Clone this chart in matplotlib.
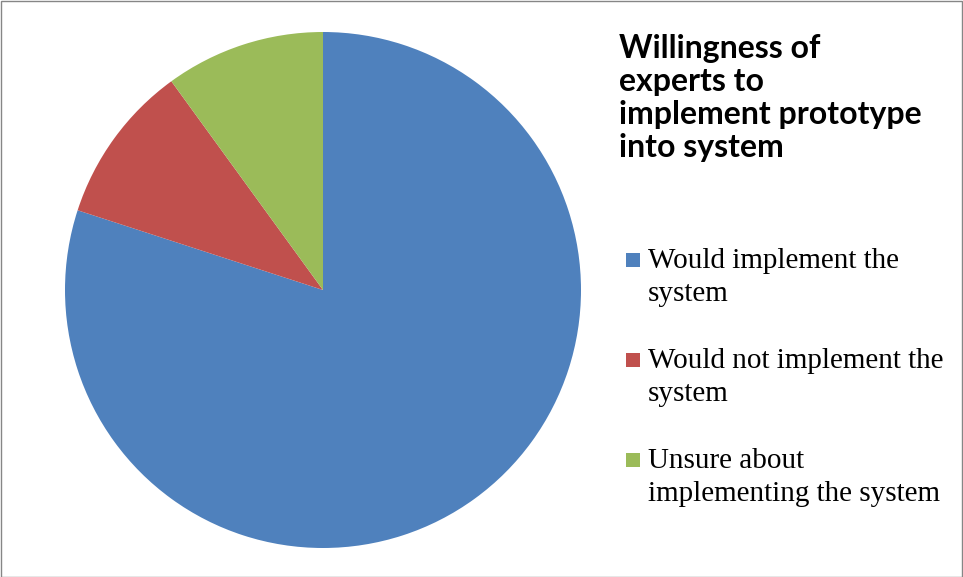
import matplotlib
matplotlib.use("Agg")
import matplotlib.pyplot as plt
from matplotlib.patches import Rectangle

categories = ["Would implement the\nsystem",
              "Would not implement the\nsystem",
              "Unsure about\nimplementing the system"]
shares = [80, 10, 10]
colors = ["#4F81BD", "#C0504D", "#9BBB59"]
title = "Willingness of\nexperts to\nimplement prototype\ninto system"

W, H = 963, 577
fig = plt.figure(figsize=(W / 100, H / 100), dpi=100)
fig.patch.set_facecolor("white")

# pie area: centre (323, 290) px, radius 258 px
cx, cy, r = 323, 290, 258
ax = fig.add_axes([(cx - r) / W, (H - cy - r) / H, 2 * r / W, 2 * r / H])
ax.pie(shares, colors=colors, startangle=90, counterclock=False,
       wedgeprops=dict(linewidth=0))
ax.set_xlim(-1, 1)
ax.set_ylim(-1, 1)
ax.set_aspect("equal")
ax.axis("off")


def fy(px):
    return 1 - px / H


# chart title, one baseline per line
for j, line in enumerate(title.split("\n")):
    fig.text(619 / W, fy(58 + 33 * j), line, ha="left", va="baseline",
             fontsize=23, fontweight="bold", family="Lato", color="black")

# legend: square swatch beside the first line of each label
for i, (lab, col) in enumerate(zip(categories, colors)):
    base = 268 + 100 * i
    fig.patches.append(Rectangle((626 / W, fy(base - 1)), 14 / W, 14 / H,
                                 transform=fig.transFigure, facecolor=col,
                                 edgecolor="none"))
    for j, line in enumerate(lab.split("\n")):
        fig.text(648 / W, fy(base + 33 * j), line, ha="left", va="baseline",
                 fontsize=21, family="Liberation Serif", color="black")

# outer frame
fig.patches.append(Rectangle((0.5 / W, 0.5 / H), (W - 1.5) / W, (H - 1.5) / H,
                             transform=fig.transFigure, fill=False,
                             edgecolor="#868686", linewidth=1))

fig.savefig("out.png", dpi=100)
